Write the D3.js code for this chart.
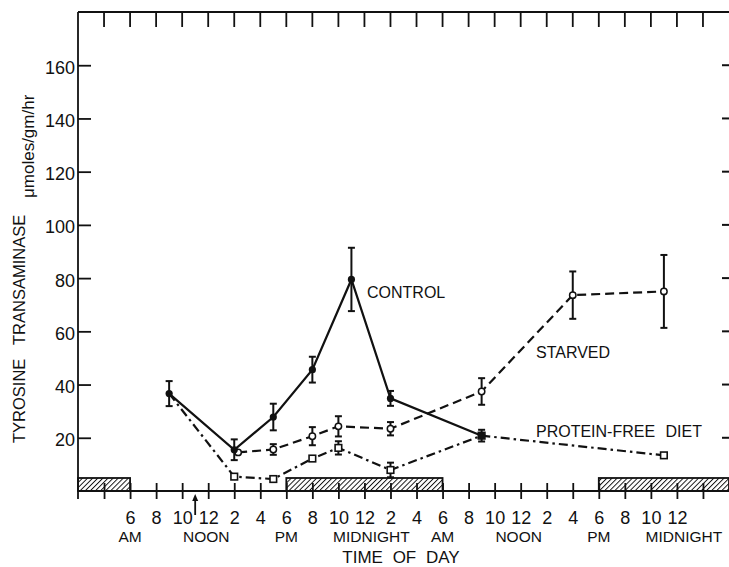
<!DOCTYPE html>
<html>
<head>
<meta charset="utf-8">
<script src="https://cdn.jsdelivr.net/npm/d3@7"></script>
<style>
  html, body { margin: 0; padding: 0; background: #fff; }
  svg { display: block; font-family: "Liberation Sans", Arial, sans-serif; }
  text { fill: #111; }
</style>
</head>
<body>
<svg id="chart" width="729" height="567"></svg>
<script>
// Time of day in hours, counted from midnight of the first day
const tickHours = [4, 6, 8, 10, 12, 14, 16, 18, 20, 22, 24, 26, 28, 30, 32, 34, 36, 38, 40, 42, 44, 46, 48, 50];
const tickLabels = ["", "6", "8", "10", "12", "2", "4", "6", "8", "10", "12", "2", "4", "6", "8", "10", "12", "2", "4", "6", "8", "10", "12", ""];
const periodHours = [6, 12, 18, 24, 30, 36, 42, 48];
const periodLabels = ["AM", "NOON", "PM", "MIDNIGHT", "AM", "NOON", "PM", "MIDNIGHT"];
const yTicks = [20, 40, 60, 80, 100, 120, 140, 160];
const darkPeriods = [[2, 6], [18, 30], [42, 52]];
const arrowHour = 11;

// Tyrosine transaminase activity, µmoles/gm/hr (mean ± error)
const controlHours = [9, 14, 17, 20, 23, 26, 33];
const controlValues = [36.6, 15.5, 27.8, 45.6, 79.5, 34.8, 20.8];
const controlErr = [4.7, 3.9, 5.0, 4.85, 11.9, 2.8, 2.2];

const starvedHours = [14.3, 17, 20, 22, 26, 33, 40, 47];
const starvedValues = [14.5, 15.6, 20.6, 24.3, 23.4, 37.4, 73.6, 75.0];
const starvedErr = [0, 2.0, 3.4, 3.8, 2.5, 5.0, 8.9, 13.7];

const proteinFreeHours = [9, 14, 17, 20, 22, 26, 33, 47];
const proteinFreeValues = [36.6, 5.4, 4.5, 12.2, 16.2, 7.9, 20.8, 13.4];
const proteinFreeErr = [0, 0, 0, 0, 2.5, 2.75, 0, 0];

const svg = d3.select("#chart");

const x = d3.scaleLinear().domain([2, 52]).range([78, 729]);
const y = d3.scaleLinear().domain([0, 180]).range([491, 12]);

// hatch pattern for the dark periods
const defs = svg.append("defs");
const pat = defs.append("pattern")
  .attr("id", "hatch")
  .attr("patternUnits", "userSpaceOnUse")
  .attr("width", 3.6).attr("height", 3.6)
  .attr("patternTransform", "rotate(45)");
pat.append("rect").attr("width", 3.6).attr("height", 3.6).attr("fill", "#fff");
pat.append("line").attr("x1", 0).attr("y1", 0).attr("x2", 0).attr("y2", 3.6)
  .attr("stroke", "#111").attr("stroke-width", 1.9);

svg.append("g").selectAll("rect")
  .data(darkPeriods)
  .join("rect")
  .attr("x", d => x(d[0]))
  .attr("width", d => x(d[1]) - x(d[0]))
  .attr("y", y(0) - 13)
  .attr("height", 13)
  .attr("fill", "url(#hatch)")
  .attr("stroke", "#111")
  .attr("stroke-width", 1.8);

// frame: left axis, top edge
svg.append("line").attr("x1", x(2)).attr("x2", x(2)).attr("y1", y(180)).attr("y2", y(0) + 8)
  .attr("stroke", "#111").attr("stroke-width", 1.8);
svg.append("line").attr("x1", x(2)).attr("x2", 729).attr("y1", y(180)).attr("y2", y(180))
  .attr("stroke", "#111").attr("stroke-width", 1.8);

// top ticks
svg.append("g").selectAll("line")
  .data(tickHours)
  .join("line")
  .attr("x1", d => x(d)).attr("x2", d => x(d))
  .attr("y1", y(180)).attr("y2", y(180) + 15)
  .attr("stroke", "#111").attr("stroke-width", 1.8);

// right-edge ticks
svg.append("g").selectAll("line")
  .data(yTicks)
  .join("line")
  .attr("x1", 722).attr("x2", 729)
  .attr("y1", d => y(d)).attr("y2", d => y(d))
  .attr("stroke", "#111").attr("stroke-width", 2);

// left axis
const yAxis = svg.append("g")
  .attr("transform", `translate(${x(2)},0)`)
  .call(d3.axisLeft(y).tickValues(yTicks).tickSize(-13).tickPadding(3));
yAxis.select(".domain").remove();
yAxis.selectAll(".tick line").attr("stroke", "#111").attr("stroke-width", 1.8);
yAxis.selectAll(".tick text")
  .attr("font-size", 18)
  .attr("font-family", "Liberation Sans, Arial, sans-serif")
  .attr("fill", "#111")
  .attr("dy", "0.45em");

// bottom axis
const xAxis = svg.append("g")
  .attr("transform", `translate(0,${y(0)})`)
  .call(d3.axisBottom(x).tickValues(tickHours).tickSize(8)
    .tickFormat((d, i) => tickLabels[i]));
xAxis.select(".domain")
  .attr("d", `M${x(2)},0H729`)
  .attr("stroke", "#111").attr("stroke-width", 1.8);
xAxis.selectAll(".tick line")
  .attr("y1", -8).attr("y2", 8)
  .attr("stroke", "#111").attr("stroke-width", 1.8);
xAxis.selectAll(".tick text")
  .attr("font-size", 18)
  .attr("font-family", "Liberation Sans, Arial, sans-serif")
  .attr("fill", "#111")
  .attr("y", 33).attr("dy", 0);

// second row: AM / NOON / PM / MIDNIGHT
svg.append("g").selectAll("text")
  .data(periodHours)
  .join("text")
  .attr("x", (d, i) => x(d) + (periodLabels[i] === "MIDNIGHT" ? 7 : (periodLabels[i] === "NOON" ? -2 : 0)))
  .attr("y", 542)
  .attr("text-anchor", "middle")
  .attr("font-size", 15.5)
  .text((d, i) => periodLabels[i]);

svg.append("text")
  .attr("x", 401).attr("y", 563)
  .attr("text-anchor", "middle")
  .attr("font-size", 17)
  .attr("word-spacing", 5)
  .text("TIME OF DAY");

// arrow under the axis
svg.append("line")
  .attr("x1", x(arrowHour)).attr("x2", x(arrowHour))
  .attr("y1", 515).attr("y2", 499)
  .attr("stroke", "#111").attr("stroke-width", 1.8);
svg.append("path")
  .attr("d", `M${x(arrowHour)},494 l-3,7 h6 z`)
  .attr("fill", "#111");

// y-axis title
const yTitle = svg.append("text")
  .attr("transform", "translate(25,443) rotate(-90)")
  .attr("font-size", 16.5);
yTitle.append("tspan").attr("x", 0).text("TYROSINE");
yTitle.append("tspan").attr("x", 98).text("TRANSAMINASE");
yTitle.append("tspan").attr("x", 245).attr("dy", 9).attr("font-size", 17).text("\u03BCmoles/gm/hr");

// series
const series = [
  { hours: controlHours, values: controlValues, err: controlErr, dash: null, marker: "dot", skipFirstMarker: false },
  { hours: starvedHours, values: starvedValues, err: starvedErr, dash: "9,5", marker: "circle", skipFirstMarker: false },
  { hours: proteinFreeHours, values: proteinFreeValues, err: proteinFreeErr, dash: "9,4,2.5,4", marker: "square", skipFirstMarker: true }
];

const line = d3.line().x(d => x(d.h)).y(d => y(d.v));

series.forEach(s => {
  s.points = s.hours.map((h, i) => ({ h, v: s.values[i], e: s.err[i] }));
});

series.forEach(s => {
  svg.append("path")
    .datum(s.points)
    .attr("d", line)
    .attr("fill", "none")
    .attr("stroke", "#111")
    .attr("stroke-width", 2.2)
    .attr("stroke-dasharray", s.dash);
});

series.forEach(s => {
  const eb = svg.append("g").selectAll("g")
    .data(s.points.filter(p => p.e > 0))
    .join("g");
  eb.append("line")
    .attr("x1", d => x(d.h)).attr("x2", d => x(d.h))
    .attr("y1", d => y(d.v + d.e)).attr("y2", d => y(d.v - d.e))
    .attr("stroke", "#111").attr("stroke-width", 2);
  eb.append("line")
    .attr("x1", d => x(d.h) - 3.5).attr("x2", d => x(d.h) + 3.5)
    .attr("y1", d => y(d.v + d.e)).attr("y2", d => y(d.v + d.e))
    .attr("stroke", "#111").attr("stroke-width", 2);
  eb.append("line")
    .attr("x1", d => x(d.h) - 3.5).attr("x2", d => x(d.h) + 3.5)
    .attr("y1", d => y(d.v - d.e)).attr("y2", d => y(d.v - d.e))
    .attr("stroke", "#111").attr("stroke-width", 2);
});

// markers: open ones first so the filled control dots sit on top
[series[2], series[1], series[0]].forEach(s => {
  const pts = s.skipFirstMarker ? s.points.slice(1) : s.points;
  const g = svg.append("g");
  if (s.marker === "square") {
    g.selectAll("rect").data(pts).join("rect")
      .attr("x", d => x(d.h) - 3.3).attr("y", d => y(d.v) - 3.3)
      .attr("width", 6.6).attr("height", 6.6)
      .attr("fill", "#fff").attr("stroke", "#111").attr("stroke-width", 1.6);
  } else if (s.marker === "circle") {
    g.selectAll("circle").data(pts).join("circle")
      .attr("cx", d => x(d.h)).attr("cy", d => y(d.v)).attr("r", 3.2)
      .attr("fill", "#fff").attr("stroke", "#111").attr("stroke-width", 1.5);
  } else {
    g.selectAll("circle").data(pts).join("circle")
      .attr("cx", d => x(d.h)).attr("cy", d => y(d.v)).attr("r", 3.6)
      .attr("fill", "#111");
  }
});

// series labels
svg.append("text").attr("x", 367).attr("y", 298).attr("font-size", 16).text("CONTROL");
svg.append("text").attr("x", 536).attr("y", 358).attr("font-size", 16).text("STARVED");
svg.append("text").attr("x", 536).attr("y", 437).attr("font-size", 16).attr("word-spacing", 6).text("PROTEIN-FREE DIET");
</script>
</body>
</html>
